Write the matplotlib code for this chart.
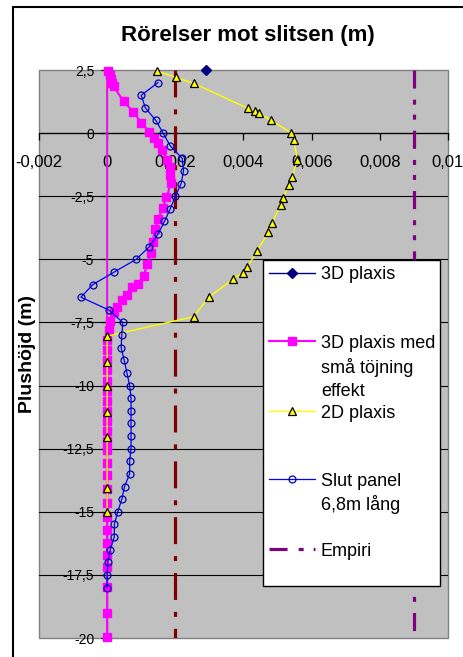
import matplotlib
matplotlib.use('Agg')
import matplotlib.pyplot as plt
from matplotlib.patches import Rectangle
from matplotlib.legend import Legend
from matplotlib.lines import Line2D

plt.rcParams['font.family'] = ['Liberation Sans', 'DejaVu Sans']
plt.rcParams['lines.scale_dashes'] = False

title = "Rörelser mot slitsen (m)"
ylabel = "Plushöjd (m)"

x_ticks = [-0.002, 0, 0.002, 0.004, 0.006, 0.008, 0.01]
x_tick_labels = ["-0,002", "0", "0,002", "0,004", "0,006", "0,008", "0,01"]
y_ticks = [2.5, 0, -2.5, -5, -7.5, -10, -12.5, -15, -17.5, -20]
y_tick_labels = ["2,5", "0", "-2,5", "-5", "-7,5", "-10", "-12,5", "-15", "-17,5", "-20"]

# 3D plaxis
plaxis3d_x = [0.0029]
plaxis3d_y = [2.5]

# 3D plaxis med små töjning effekt
small_x = [0.00002, 0.00007, 0.00011, 0.00014, 0.00019, 0.00048, 0.00077, 0.00100,
           0.00124, 0.00136, 0.00149, 0.00161, 0.00177, 0.00183, 0.00185, 0.00187,
           0.00174, 0.00163, 0.00150, 0.00140, 0.00134, 0.00128, 0.00118, 0.00107,
           0.00089, 0.00072, 0.00058, 0.00043, 0.00028, 0.00019, 0.00009, 0.00004,
           0.0, 0.0, 0.0, 0.0, 0.0, 0.0, 0.0, 0.0, 0.0, 0.0, 0.0, 0.0, 0.0, 0.0,
           0.0, 0.0, 0.0, 0.0, 0.0, 0.0, 0.0, 0.0, 0.0, 0.0]
small_y = [2.45, 2.3, 2.15, 2.0, 1.85, 1.26, 0.84, 0.41,
           0.06, -0.2, -0.4, -0.67, -1.06, -1.33, -1.66, -1.99,
           -2.55, -2.95, -3.4, -3.8, -4.3, -4.75, -5.2, -5.65,
           -5.98, -6.1, -6.4, -6.6, -6.9, -7.1, -7.45, -7.8,
           -8.2, -8.6, -9.0, -9.4, -9.8, -10.2, -10.6, -11.0, -11.4, -11.8, -12.2, -12.55,
           -13.08, -13.54, -14.1, -14.66, -15.2, -15.72, -16.25, -16.7, -17.17, -17.96, -19.0,
           -19.95]

# thin magenta reference line
ref_x = [0.0, 0.0]
ref_y = [2.5, -20.0]

# 2D plaxis
plaxis2d_x = [0.00146, 0.00202, 0.00254, 0.00413, 0.00435, 0.00445, 0.00480, 0.00538,
              0.00548, 0.00558, 0.00543, 0.00533, 0.00516, 0.00509, 0.00484, 0.00473,
              0.00440, 0.00411, 0.00398, 0.00370, 0.00298, 0.00254,
              0.0, 0.0, 0.0, 0.0, 0.0, 0.0, 0.0]
plaxis2d_y = [2.45, 2.21, 1.97, 0.98, 0.89, 0.78, 0.52, 0.02,
              -0.27, -1.06, -1.73, -2.05, -2.58, -2.85, -3.55, -3.93,
              -4.67, -5.32, -5.53, -5.78, -6.5, -7.27,
              -8.04, -9.05, -10.0, -11.06, -12.02, -14.07, -14.99]

# Slut panel 6,8m lång
slut_x = [0.00149, 0.00100, 0.00112, 0.00143, 0.00164, 0.00185, 0.00220, 0.00224,
          0.00217, 0.00200, 0.00185, 0.00168, 0.00149, 0.00124, 0.00085, 0.00021,
          -0.00042, -0.00077, 0.00004, 0.00046, 0.00043, 0.00041, 0.00050, 0.00058,
          0.00066, 0.00070, 0.00070, 0.00070, 0.00070, 0.00070, 0.00066, 0.00066,
          0.00051, 0.00043, 0.00031, 0.00021, 0.00021, 0.00009, 0.00002, 0.0, 0.0]
slut_y = [2.0, 1.5, 1.0, 0.5, 0.0, -0.5, -1.0, -1.5,
          -2.0, -2.5, -3.0, -3.5, -4.0, -4.5, -5.0, -5.5,
          -6.0, -6.5, -7.0, -7.5, -8.0, -8.5, -9.0, -9.5,
          -10.0, -10.5, -11.0, -11.5, -12.0, -12.5, -13.0, -13.5,
          -14.0, -14.5, -15.0, -15.5, -16.0, -16.5, -17.0, -17.5, -18.0]

# Empiri
empiri_x = [0.009, 0.009]
empiri_y = [2.5, -20.0]
limit_x = [0.002, 0.002]
limit_y = [2.5, -20.0]

W, H = 464, 657
fig = plt.figure(figsize=(W / 100, H / 100), dpi=100)
fig.patch.set_facecolor('white')
ax = fig.add_axes([39 / W, 1 - 638 / H, (448 - 39) / W, (638 - 70) / H])
ax.set_facecolor('#C0C0C0')
ax.patch.set_edgecolor('#808080')
ax.patch.set_linewidth(1.0)

ax.set_xlim(-0.002, 0.01)
ax.set_ylim(-20, 2.5)

# Empiri lines
ax.plot(limit_x, limit_y, color='#800000', lw=2.3,
        linestyle=(0, (19.4, 8.6, 3.6, 8.6)), zorder=2)
emp_line, = ax.plot(empiri_x, empiri_y, color='#800080', lw=2.3,
                    linestyle=(0, (13, 8, 3.6, 7.2, 3.6, 8)), zorder=2)

h3d, = ax.plot(plaxis3d_x, plaxis3d_y, color='#000080', marker='D', markersize=5.5,
               markerfacecolor='#000080', markeredgecolor='#000080', lw=1, zorder=3,
               clip_on=False)
ax.plot(ref_x, ref_y, color='#FF00FF', lw=1.2, zorder=3, clip_on=False)
hsm, = ax.plot(small_x, small_y, color='#FF00FF', lw=1.5,
               marker='s', markersize=5.5, markerfacecolor='#FF00FF',
               markeredgecolor='#FF00FF', zorder=3, clip_on=False)
h2d, = ax.plot(plaxis2d_x, plaxis2d_y, color='#FFFF00', lw=1, marker='^', markersize=6.2,
               markerfacecolor='#FFFF00', markeredgecolor='black', markeredgewidth=0.9,
               zorder=4, clip_on=False)
hsl, = ax.plot(slut_x, slut_y, color='#0000FF', lw=0.9, marker='o', markersize=5,
               markerfacecolor='none', markeredgecolor='#0000B0', markeredgewidth=0.9,
               zorder=4, clip_on=False)

# axes styling
for s in ['top', 'right']:
    ax.spines[s].set_visible(False)
ax.spines['left'].set_position(('data', 0))
ax.spines['bottom'].set_position(('data', 0))
ax.spines['left'].set_color('#606060')
ax.spines['bottom'].set_color('black')
ax.spines['left'].set_linewidth(0.9)
ax.spines['bottom'].set_linewidth(0.9)
ax.spines['left'].set_zorder(1.5)
ax.spines['bottom'].set_zorder(1.5)

ax.set_xticks(x_ticks)
ax.set_xticklabels(x_tick_labels, fontsize=12)
ax.set_yticks(y_ticks)
ax.set_yticklabels(y_tick_labels, fontsize=10)
ax.tick_params(axis='x', direction='out', length=5, width=0.9, pad=10.5, color='black')
ax.tick_params(axis='y', direction='out', length=4.3, width=0.9, pad=5, color='black')
ax.minorticks_off()

ax.yaxis.grid(True, color='black', lw=0.8)
ax.set_axisbelow(True)
for t, loc in zip(ax.yaxis.get_major_ticks(), y_ticks):
    if loc in (2.5, -20):
        t.gridline.set_visible(False)

# title and y label
fig.text(248 / W, 1 - 36 / H, title, fontsize=16, fontweight='bold',
         ha='center', va='center')
fig.text(28 / W, 1 - 354 / H, ylabel, fontsize=14, fontweight='bold',
         rotation=90, ha='center', va='center')

# figure (chart area) border
fig.add_artist(Rectangle((13 / W, -0.05), 1.0, 1 - 7 / H + 0.05,
                         transform=fig.transFigure, fill=False,
                         edgecolor='black', lw=1.5))

# legend box
lx0 = (263 - 39) / 409
lx1 = (440 - 39) / 409
ly_top = 1 - (260 - 70) / 568
ly_bot = 1 - (586 - 70) / 568
ax.add_patch(Rectangle((lx0, ly_bot), lx1 - lx0, ly_top - ly_bot,
                       transform=ax.transAxes, facecolor='white',
                       edgecolor='black', lw=1, zorder=5))

blank = Line2D([], [], color='none')
rows = [
    (h3d, "3D plaxis", 275),
    (hsm, "3D plaxis med", 343),
    (blank, "små töjning", 368),
    (blank, "effekt", 392),
    (h2d, "2D plaxis", 413),
    (hsl, "Slut panel", 481),
    (blank, "6,8m lång", 505),
    (emp_line, "Empiri", 551),
]
for handle, label, py in rows:
    yf = 1 - (py - 70) / 568
    leg = Legend(ax, [handle], [label], loc='center left',
                 bbox_to_anchor=(0.5623, yf), bbox_transform=ax.transAxes,
                 frameon=False, borderpad=0, borderaxespad=0,
                 handlelength=2.55, handletextpad=0.33, fontsize=13,
                 numpoints=1)
    leg.set_zorder(6)
    ax.add_artist(leg)

fig.savefig('out.png', dpi=100)
